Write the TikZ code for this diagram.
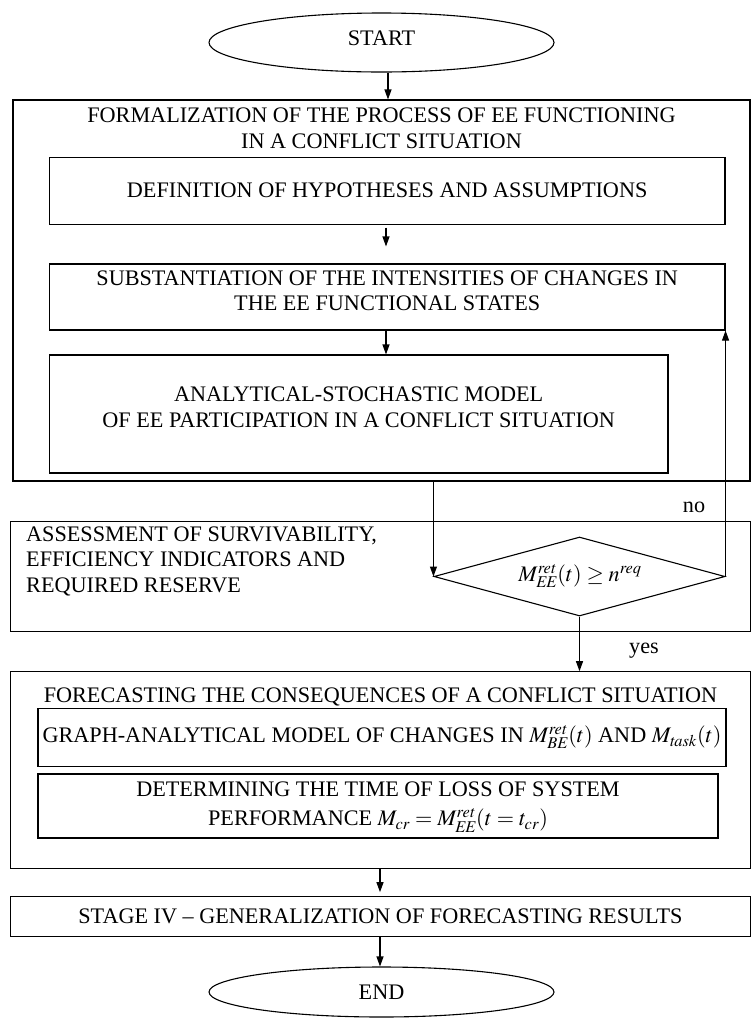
\documentclass[tikz,border=0pt]{standalone}
\usepackage{mathptmx}
\usepackage[no-math]{fontspec}
\setmainfont{Liberation Serif}
\usetikzlibrary{shapes.geometric,arrows.meta}
\newcommand\figfont{\fontsize{22.2}{25.5}\selectfont}
\begin{document}
\begin{tikzpicture}[x=1pt,y=-1pt,
  box/.style={draw, line width=1.1pt, rectangle, inner sep=0pt, font=\figfont, align=center},
  txt/.style={align=center, inner sep=0pt, font=\figfont},
  oval/.style={draw, line width=1.1pt, ellipse, inner sep=0pt, font=\figfont},
  arr/.style={-{Triangle[length=10pt,width=7pt]}, line width=1.1pt}]
\useasboundingbox (0,0) rectangle (752,1018);
\clip (0,0) rectangle (752,1018);
% terminals
\node[oval, minimum width=345pt, minimum height=59pt] (start) at (381.5,42.5) {};
\node[txt] (starttext) at (381.5,38) {START};
\node[oval, minimum width=345pt, minimum height=50pt] (end) at (381.5,992) {END};
% block 1
\node[box, minimum width=737pt, minimum height=381pt] (outer1) at (381.5,290.5) {};
\node[txt] (title1) at (381.5,128.5) {FORMALIZATION OF THE PROCESS OF EE FUNCTIONING\\IN A CONFLICT SITUATION};
\node[box, minimum width=675.6pt, minimum height=66.7pt] (def) at (387.2,190.7) {DEFINITION OF HYPOTHESES AND ASSUMPTIONS};
\node[box, minimum width=675.6pt, minimum height=66pt] (sub) at (387.2,297) {};
\node[txt] (subtext) at (387.2,291) {SUBSTANTIATION OF THE INTENSITIES OF CHANGES IN\\THE EE FUNCTIONAL STATES};
\node[box, minimum width=618.6pt, minimum height=118pt] (ana) at (358.7,414) {};
\node[txt] (anatext) at (358.7,407.5) {ANALYTICAL-STOCHASTIC MODEL\\OF EE PARTICIPATION IN A CONFLICT SITUATION};
\coordinate (a1) at (386,0);
% block 2
\node[box, minimum width=740pt, minimum height=110pt] (assess) at (380.5,576.7) {};
\node[txt, align=left, anchor=west] (assesstext) at (26,561) {ASSESSMENT OF SURVIVABILITY,\\EFFICIENCY INDICATORS AND\\REQUIRED RESERVE};
\node[draw, line width=1.1pt, diamond, inner sep=0pt, minimum width=291pt, minimum height=79pt] (dia) at (579.5,576.5) {};
\node[txt] (diatext) at (580,576) {$M^{\mathit{ret}}_{\mathit{EE}}(t)\geq n^{\mathit{req}}$};
\node[txt] (no) at (694,507) {no};
\node[txt] (yes) at (644,651) {yes};
% block 3
\node[box, minimum width=740pt, minimum height=196.3pt] (fore) at (380.5,769.9) {};
\node[txt] (foretitle) at (380.5,696.7) {FORECASTING THE CONSEQUENCES OF A CONFLICT SITUATION};
\node[box, minimum width=688pt, minimum height=57.7pt] (graph) at (382,737.2) {GRAPH-ANALYTICAL MODEL OF CHANGES IN $M^{\mathit{ret}}_{\mathit{BE}}(t)$ AND $M_{\mathit{task}}(t)$};
\node[box, minimum width=680pt, minimum height=64pt] (det) at (378,806) {};
\node[txt] (dettext) at (378,807) {DETERMINING THE TIME OF LOSS OF SYSTEM\\[4pt]PERFORMANCE $M_{\mathit{cr}}=M^{\mathit{ret}}_{\mathit{EE}}(t=t_{\mathit{cr}})$};
% stage IV
\node[box, minimum width=740pt, minimum height=40pt] (stage) at (380.5,916.7) {STAGE IV -- GENERALIZATION OF FORECASTING RESULTS};
\coordinate (a2) at (380,0);
% connectors
\draw[arr] (start.south -| 388,0) -- (388,0 |- outer1.north);
\draw[arr] ([yshift=-3pt]def.south -| a1) -- ([yshift=17pt]sub.north -| a1);
\draw[arr] (sub.south -| a1) -- (ana.north -| a1);
\draw[arr] (dia.west |- outer1.south) -- (dia.west);
\draw[arr] (dia.east) -- (dia.east |- sub.south);
\draw[arr] (dia.south) -- (dia.south |- fore.north);
\draw[arr] (fore.south -| a2) -- ([yshift=4pt]stage.north -| a2);
\draw[arr] (stage.south -| a2) -- (end.north -| a2);
\end{tikzpicture}
\end{document}
